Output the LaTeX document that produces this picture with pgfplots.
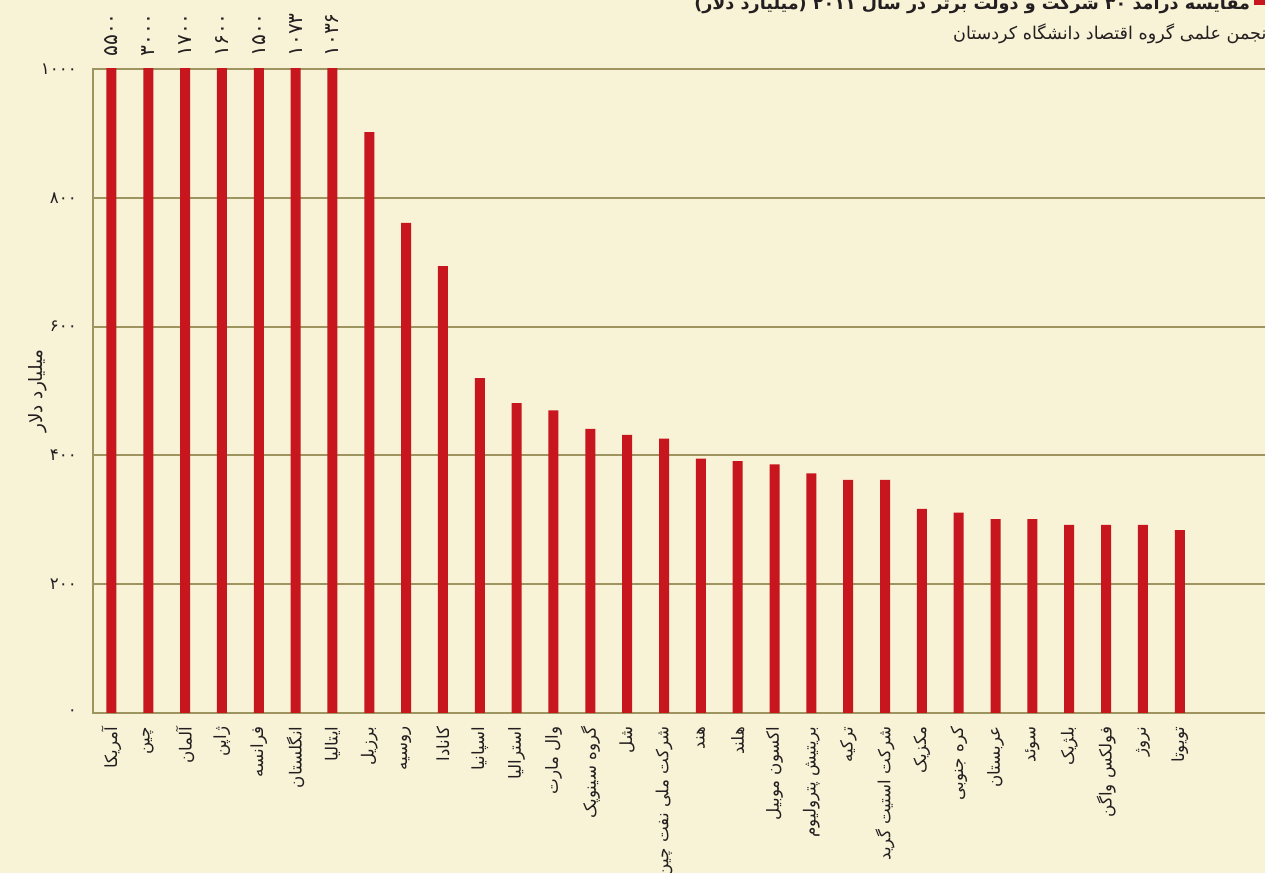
\documentclass[border=0pt]{standalone}
\usepackage{fontspec}
\usepackage{pgfplots}
\usepackage{pgfplotstable}
\pgfplotsset{compat=1.18}
\TeXXeTstate=1
\newfontfamily\arabicfont[Script=Arabic]{DejaVu Sans}
\newcommand{\fa}[1]{{\arabicfont\beginR #1\endR}}
\definecolor{bg}{RGB}{248,242,214}
\definecolor{gridc}{RGB}{158,148,96}
\definecolor{barred}{RGB}{200,22,30}
\definecolor{ink}{RGB}{35,31,32}

% revenue in billion dollars (first seven run past the 1000 top)
\pgfplotstableread{
x val
0 5500
1 3000
2 1700
3 1600
4 1500
5 1073
6 1036
7 902
8 761
9 694
10 520
11 481
12 470
13 441
14 432
15 426
16 395
17 391
18 386
19 372
20 362
21 362
22 317
23 311
24 301
25 301
26 292
27 292
28 292
29 284
}\revenue

% printed values of the clipped bars
\pgfplotstableread{
x y lab
0 1000 ۵۵۰۰
1 1000 ۳۰۰۰
2 1000 ۱۷۰۰
3 1000 ۱۶۰۰
4 1000 ۱۵۰۰
5 1000 ۱۰۷۳
6 1000 ۱۰۳۶
}\toplabels

\begin{document}
\begin{tikzpicture}
\useasboundingbox (0,0) rectangle (25.3,17.46);
\fill[bg] (0,0) rectangle (25.3,17.46);
\begin{axis}[
  at={(1.86cm,3.2cm)}, anchor=south west,
  scale only axis, width=23.54cm, height=12.88cm,
  xmin=-0.5, xmax=31.45, ymin=0, ymax=1000,
  axis line style={gridc, line width=1.2pt},
  major tick length=0pt,
  ymajorgrids, grid style={gridc, line width=1.2pt},
  ytick={0,200,400,600,800,1000},
  yticklabels={۰,۲۰۰,۴۰۰,۶۰۰,۸۰۰,۱۰۰۰},
  yticklabel style={font=\arabicfont\fontsize{9.5}{10}\selectfont, text=ink, xshift=-0.2cm},
  xtick={0,...,29},
  xticklabels={\fa{آمریکا},\fa{چین},\fa{آلمان},\fa{ژاپن},\fa{فرانسه},\fa{انگلستان},\fa{ایتالیا},\fa{برزیل},\fa{روسیه},\fa{کانادا},\fa{اسپانیا},\fa{استرالیا},\fa{وال مارت},\fa{گروه سینوپک},\fa{شل},\fa{شرکت ملی نفت چین},\fa{هند},\fa{هلند},\fa{اکسون موبیل},\fa{بریتیش پترولیوم},\fa{ترکیه},\fa{شرکت استیت گرید},\fa{مکزیک},\fa{کره جنوبی},\fa{عربستان},\fa{سوئد},\fa{بلژیک},\fa{فولکس واگن},\fa{نروژ},\fa{تویوتا}},
  xticklabel style={font=\arabicfont\fontsize{9.5}{10}\selectfont, text=ink, yshift=-0.15cm, rotate=90, anchor=east},
  ylabel={\fa{میلیارد دلار}},
  every axis y label/.style={at={(axis description cs:0,0.5)}, xshift=-1.1cm, rotate=90, anchor=center, font=\arabicfont\fontsize{10.5}{11}\selectfont, text=ink},
  legend image code/.code={\fill[barred] (0cm,-0.05cm) rectangle (0.3cm,0.3cm);},
  legend style={at={(axis description cs:0.9992,1.0823)}, anchor=south east, draw=none, fill=none, legend plot pos=right, inner sep=0pt, font=\arabicfont\bfseries\fontsize{10}{11}\selectfont, text=ink},
  legend cell align=right,
]
  \addplot[ybar, bar width=0.2cm, fill=barred, draw=none] table[x=x, y=val] {\revenue};
  \addlegendentry{\fa{مقایسه درآمد ۳۰ شرکت و دولت برتر در سال ۲۰۱۱ (میلیارد دلار)}}
  \addplot[draw=none, mark=none, forget plot, point meta=explicit symbolic,
    nodes near coords={\arabicfont\pgfplotspointmeta},
    every node near coord/.style={yshift=0.24cm, rotate=90, anchor=west, inner sep=0pt, font=\arabicfont\fontsize{11.5}{12}\selectfont, text=ink}]
    table[x=x, y=y, meta=lab] {\toplabels};
\end{axis}
\node[anchor=base east, font=\arabicfont\fontsize{10}{11}\selectfont, text=ink] at (25.55,16.66) {\fa{انجمن علمی گروه اقتصاد دانشگاه کردستان}};
\end{tikzpicture}
\end{document}
